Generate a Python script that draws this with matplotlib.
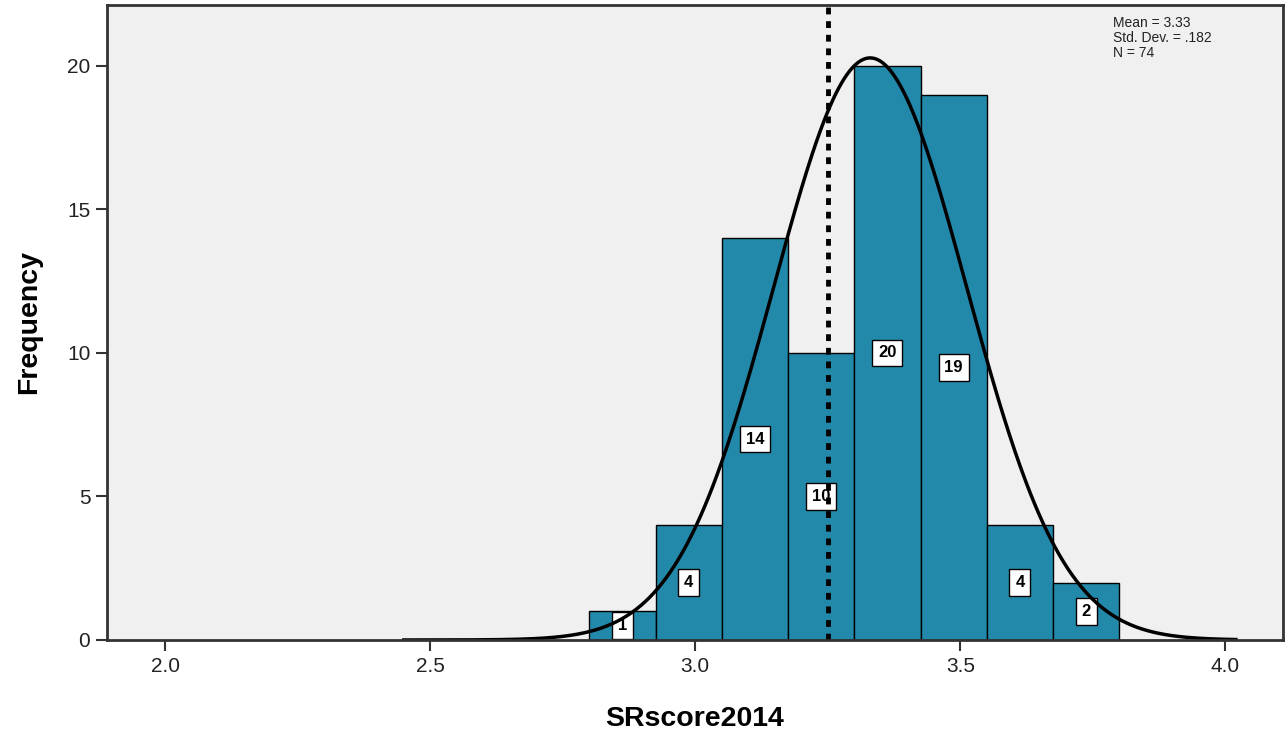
import numpy as np
import matplotlib.pyplot as plt

plt.rcParams['font.family'] = ['Liberation Sans', 'DejaVu Sans']

# histogram of SRscore2014
bin_edges = [2.800, 2.925, 3.050, 3.175, 3.300, 3.425, 3.550, 3.675, 3.800]
counts = [1, 4, 14, 10, 20, 19, 4, 2]
mean_val = 3.33
sd_val = 0.182
n_val = 74
ref_line = 3.25

fig = plt.figure(figsize=(12.86, 7.33), dpi=100)
ax = fig.add_axes([0.0832, 0.1269, 0.9145, 0.8663])
ax.set_facecolor('#F0F0F0')

lefts = np.array(bin_edges[:-1])
widths = np.diff(bin_edges)
ax.bar(lefts, counts, width=widths, align='edge', color='#2389AB',
       edgecolor='black', linewidth=1.0, zorder=2)

# count labels in the middle of each bar (lines are drawn over them)
for x0, w, c in zip(lefts, widths, counts):
    ax.text(x0 + w / 2, c / 2, str(c), ha='center', va='center', fontsize=12,
            fontweight='bold', color='black', zorder=3,
            bbox=dict(boxstyle='square,pad=0.35', fc='white', ec='black', lw=1))

# normal curve
xs = np.linspace(2.45, 4.02, 600)
bw = widths[0]
ys = n_val * bw / (sd_val * np.sqrt(2 * np.pi)) * np.exp(-0.5 * ((xs - mean_val) / sd_val) ** 2)
ax.plot(xs, ys, color='black', lw=2.5, zorder=4)

ax.axvline(ref_line, color='black', lw=3.5, linestyle=(0, (1.4, 1.4)), zorder=5)

ax.set_xlim(1.890, 4.109)
ax.set_ylim(0, 22.12)
ax.set_xticks([2.0, 2.5, 3.0, 3.5, 4.0])
ax.set_xticklabels(['2.0', '2.5', '3.0', '3.5', '4.0'])
ax.set_yticks([0, 5, 10, 15, 20])
ax.tick_params(axis='both', labelsize=15, length=8, width=1.5, color='#333333',
               labelcolor='#222222', pad=4)

for s in ax.spines.values():
    s.set_linewidth(2)
    s.set_color('#333333')
    s.set_zorder(6)

ax.set_xlabel('SRscore2014', fontsize=20.5, fontweight='bold', labelpad=22)
ax.set_ylabel('Frequency', fontsize=20.5, fontweight='bold', labelpad=18)

ax.text(0.855, 0.982, 'Mean = 3.33\nStd. Dev. = .182\nN = 74', transform=ax.transAxes,
        ha='left', va='top', fontsize=10, color='#222222', linespacing=1.05)

fig.savefig('out.png', dpi=100)
